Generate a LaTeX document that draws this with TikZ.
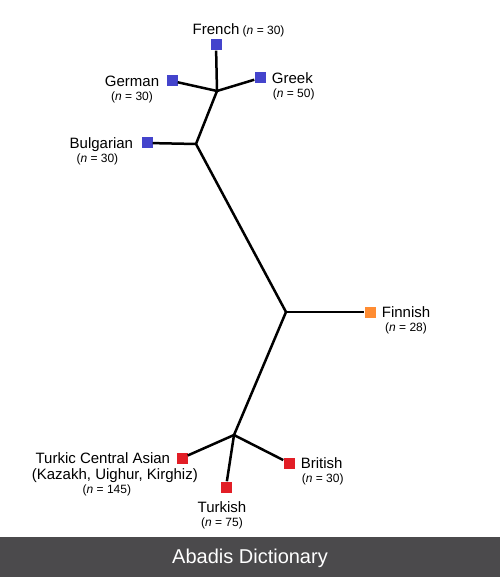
\documentclass[tikz,border=0pt]{standalone}
\usepackage{fontspec}
\setmainfont{Liberation Sans}
\usetikzlibrary{positioning}

\definecolor{popblue}{RGB}{68,68,204}
\definecolor{poporange}{RGB}{255,140,50}
\definecolor{popred}{RGB}{226,30,38}
\definecolor{bannergray}{RGB}{75,74,76}

\begin{document}
\begin{tikzpicture}[
    x=1pt, y=-1pt,
    node distance=6pt,
    pop/.style={
        rectangle, minimum size=11pt, inner sep=0pt
    },
    eu/.style={pop, fill=popblue},
    fi/.style={pop, fill=poporange},
    tk/.style={pop, fill=popred},
    lang/.style={
        inner sep=0pt, text height=11pt, text depth=0pt,
        font=\fontsize{15}{18}\selectfont
    },
    cnt/.style={
        inner sep=0pt, text height=9pt, text depth=0pt,
        font=\fontsize{12}{14}\selectfont
    },
    edge/.style={line width=2.5pt, black}
]
    \useasboundingbox (0,0) rectangle (500,577);

    % Branch points
    \coordinate (jA) at (217,91);
    \coordinate (jB) at (196,144);
    \coordinate (jC) at (286,312);
    \coordinate (jD) at (234,435);

    % Populations
    \node[eu] (french)    at (216,45)  {};
    \node[eu] (german)    at (172,81)  {};
    \node[eu] (greek)     at (260,78)  {};
    \node[eu] (bulgarian) at (147,143) {};
    \node[fi] (finnish)   at (370,312) {};
    \node[tk] (turkic)    at (182,458) {};
    \node[tk] (turkish)   at (226,487) {};
    \node[tk] (british)   at (289,463) {};

    % Edges
    \draw[edge] (jA) -- (french);
    \draw[edge] (jA) -- (german);
    \draw[edge] (jA) -- (greek);
    \draw[edge] (jA) -- (jB);
    \draw[edge] (jB) -- (bulgarian);
    \draw[edge] (jB) -- (jC);
    \draw[edge] (jC) -- (finnish);
    \draw[edge] (jC) -- (jD);
    \draw[edge] (jD) -- (turkic);
    \draw[edge] (jD) -- (turkish);
    \draw[edge] (jD) -- (british);

    % Labels
    \node[lang] (frenchlbl) [above=4.5pt of french] {French};
    \node[cnt] (frenchn) [right=3pt of frenchlbl.base east, anchor=base west] {(\textit{n} = 30)};

    \node[lang] (germanlbl) [left=7pt of german] {German};
    \node[cnt] (germann) [below=4.5pt of germanlbl] {(\textit{n} = 30)};

    \node[lang] (greeklbl) [right=6pt of greek] {Greek};
    \node[cnt] (greekn) [below=4.5pt of greeklbl.south west, anchor=north west, xshift=1pt] {(\textit{n} = 50)};

    \node[lang] (bulgarianlbl) [left=8pt of bulgarian] {Bulgarian};
    \node[cnt] (bulgariann) [below=4.5pt of bulgarianlbl, xshift=-4pt] {(\textit{n} = 30)};

    \node[lang] (finnishlbl) [right=6pt of finnish] {Finnish};
    \node[cnt] (finnishn) [below=4.5pt of finnishlbl] {(\textit{n} = 28)};

    \node[lang] (turkiclbl) [left=6pt of turkic] {Turkic Central Asian};
    \node[lang] (kazakh) [below=4.5pt of turkiclbl, xshift=12pt] {(Kazakh, Uighur, Kirghiz)};
    \node[cnt] (turkicn) [below=4.5pt of kazakh, xshift=-8pt] {(\textit{n} = 145)};

    \node[lang] (turkishlbl) [below=8.5pt of turkish, xshift=-4pt] {Turkish};
    \node[cnt] (turkishn) [below=4.5pt of turkishlbl] {(\textit{n} = 75)};

    \node[lang] (britishlbl) [right=6pt of british] {British};
    \node[cnt] (britishn) [below=4.5pt of britishlbl.south west, anchor=north west, xshift=1pt] {(\textit{n} = 30)};

    % Banner
    \fill[bannergray] (0,537) rectangle (500,577);
    \node[anchor=base, text=white, inner sep=0pt, font=\fontsize{20}{24}\selectfont] (banner) at (250,563) {Abadis Dictionary};

\end{tikzpicture}
\end{document}
